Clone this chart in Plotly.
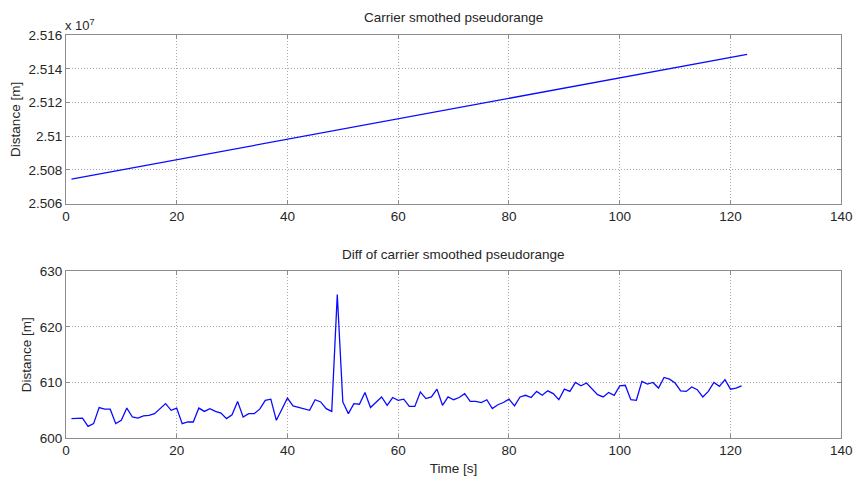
import plotly.graph_objects as go

# ---- data ----
time_top = [1, 10, 20, 30, 40, 50, 60, 70, 80, 90, 100, 110, 120, 123]
pseudorange = [25074540, 25079978, 25086024, 25092069, 25098122, 25104199, 25110265,
               25116334, 25122401, 25128477, 25134564, 25140657, 25146748, 25148575]

time_diff = list(range(1, 123))
diff_vals = [
    603.5, 603.6, 603.6, 602.1, 602.6, 605.5, 605.2, 605.2, 602.6, 603.2,
    605.4, 603.8, 603.6, 604.0, 604.1, 604.4, 605.3, 606.2, 605.0, 605.4,
    602.6, 602.9, 602.9, 605.4, 604.8, 605.3, 604.8, 604.5, 603.5, 604.2,
    606.6, 603.8, 604.4, 604.4, 605.2, 606.8, 607.0, 603.2, 605.2, 607.2,
    605.8, 605.5, 605.3, 605.0, 606.9, 606.5, 605.3, 604.8, 625.8, 606.5,
    604.4, 606.2, 606.1, 608.2, 605.5, 606.4, 607.4, 605.9, 607.3, 606.8,
    607.0, 605.7, 605.7, 608.3, 607.1, 607.4, 608.8, 605.9, 607.4, 606.9,
    607.3, 608.0, 606.6, 606.6, 606.4, 606.9, 605.3, 606.0, 606.4, 607.0,
    605.8, 607.4, 607.7, 607.3, 608.4, 607.7, 608.5, 608.0, 606.9, 608.8,
    608.4, 610.0, 609.4, 609.9, 608.9, 607.8, 607.4, 608.2, 607.7, 609.4,
    609.5, 606.9, 606.8, 610.2, 609.7, 610.0, 609.0, 610.9, 610.6, 609.9,
    608.5, 608.4, 609.2, 608.7, 607.4, 608.4, 610.0, 609.3, 610.5, 608.8,
    609.0, 609.4,
]

x_ticks = [0, 20, 40, 60, 80, 100, 120, 140]
top_tickvals = [25060000, 25080000, 25100000, 25120000, 25140000, 25160000]
top_ticktext = ["2.506", "2.508", "2.51", "2.512", "2.514", "2.516"]
bottom_ticks = [600, 610, 620, 630]

FONT = "Liberation Sans, Arial, sans-serif"
TXT = "#262626"
LINE_BLUE = "#0a0aff"

fig = go.Figure()
fig.add_trace(go.Scatter(x=time_top, y=pseudorange, mode="lines",
                         line=dict(color=LINE_BLUE, width=1.3),
                         xaxis="x", yaxis="y", showlegend=False))
fig.add_trace(go.Scatter(x=time_diff, y=diff_vals, mode="lines",
                         line=dict(color=LINE_BLUE, width=1.3),
                         xaxis="x2", yaxis="y2", showlegend=False))

axis_common = dict(
    showline=True, linecolor="#8c8c8c", linewidth=1, mirror="ticks",
    ticks="inside", ticklen=4, tickcolor="#8c8c8c",
    showgrid=True, gridcolor="#a8a8a8", griddash="1px,2px", gridwidth=1,
    zeroline=False, tickfont=dict(family=FONT, size=13.5, color=TXT),
)

xd = [63 / 867, 852 / 867]
fig.update_layout(
    width=867, height=481,
    margin=dict(l=0, r=0, t=0, b=0),
    paper_bgcolor="white", plot_bgcolor="white",
    font=dict(family=FONT, size=13, color=TXT),
    xaxis=dict(domain=xd, range=[0, 140], tickvals=x_ticks, anchor="y", **axis_common),
    yaxis=dict(domain=[1 - 203 / 481, 1 - 29 / 481], range=[25060000, 25160000],
               tickvals=top_tickvals, ticktext=top_ticktext, anchor="x",
               title=dict(text="Distance [m]", font=dict(family=FONT, size=13.5, color=TXT), standoff=4),
               **axis_common),
    xaxis2=dict(domain=xd, range=[0, 140], tickvals=x_ticks, anchor="y2",
                title=dict(text="Time [s]", font=dict(family=FONT, size=13.5, color=TXT), standoff=6),
                **axis_common),
    yaxis2=dict(domain=[1 - 445 / 481, 1 - 272.7 / 481], range=[600, 630],
                tickvals=bottom_ticks, anchor="x2",
                title=dict(text="Distance [m]", font=dict(family=FONT, size=13.5, color=TXT), standoff=4),
                **axis_common),
    annotations=[
        dict(text="Carrier smothed pseudorange", x=0.5 * (xd[0] + xd[1]), y=1 - 11 / 481,
             xref="paper", yref="paper", showarrow=False, xanchor="center", yanchor="middle",
             font=dict(family=FONT, size=13.5, color=TXT)),
        dict(text="Diff of carrier smoothed pseudorange", x=0.5 * (xd[0] + xd[1]), y=1 - 255 / 481,
             xref="paper", yref="paper", showarrow=False, xanchor="center", yanchor="middle",
             font=dict(family=FONT, size=13.5, color=TXT)),
        dict(text="x 10<sup>7</sup>", x=60 / 867, y=1 - 19 / 481,
             xref="paper", yref="paper", showarrow=False, xanchor="left", yanchor="middle",
             font=dict(family=FONT, size=13, color=TXT)),
    ],
)

fig.write_html("out.html")
